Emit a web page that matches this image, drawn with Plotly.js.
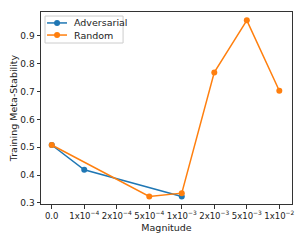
<!DOCTYPE html>
<html><head><meta charset="utf-8">
<script src="https://cdn.plot.ly/plotly-3.0.1.min.js"></script>
<style>html,body{margin:0;padding:0;background:#fff}#c{width:305px;height:244px}</style>
</head><body><div id="c"></div>
<script>
const categories = ["0.0","1x10<sup>−4</sup>","2x10<sup>−4</sup>","5x10<sup>−4</sup>","1x10<sup>−3</sup>","2x10<sup>−3</sup>","5x10<sup>−3</sup>","1x10<sup>−2</sup>"];
const advIdx = [0, 1, 4];
const advVals = [0.508, 0.419, 0.323];
const randIdx = [0, 3, 4, 5, 6, 7];
const randVals = [0.508, 0.323, 0.335, 0.769, 0.956, 0.703];
const yTicks = [0.3, 0.4, 0.5, 0.6, 0.7, 0.8, 0.9];
const seriesNames = ["Adversarial", "Random"];
const seriesColors = ["#1f77b4", "#ff7f0e"];

const data = [
  {x: advIdx, y: advVals, name: seriesNames[0], type: "scatter", mode: "lines+markers",
   line: {color: seriesColors[0], width: 1.5}, marker: {color: seriesColors[0], size: 6}},
  {x: randIdx, y: randVals, name: seriesNames[1], type: "scatter", mode: "lines+markers",
   line: {color: seriesColors[1], width: 1.5}, marker: {color: seriesColors[1], size: 6}}
];

const shapes = [{type: "rect", xref: "paper", yref: "paper", x0: 0.016, x1: 0.327, y0: 0.8385, y1: 0.979,
  line: {color: "#cccccc", width: 1}, fillcolor: "rgba(255,255,255,0.8)", layer: "above"}];
const annotations = [];
const entryY = [0.943, 0.880];
seriesNames.forEach((n, i) => {
  shapes.push({type: "line", xref: "paper", yref: "paper", x0: 0.024, x1: 0.1036, y0: entryY[i], y1: entryY[i],
    line: {color: seriesColors[i], width: 1.5}, layer: "above"});
  shapes.push({type: "circle", xref: "paper", yref: "paper", xsizemode: "pixel", ysizemode: "pixel",
    xanchor: 0.064, yanchor: entryY[i], x0: -3, x1: 3, y0: -3, y1: 3,
    line: {color: seriesColors[i], width: 0}, fillcolor: seriesColors[i], layer: "above"});
  annotations.push({xref: "paper", yref: "paper", x: 0.1235, y: entryY[i], xanchor: "left", yanchor: "middle",
    text: n, showarrow: false, font: {family: "DejaVu Sans", size: 9.5, color: "#222"}});
});

const layout = {
  width: 305, height: 244,
  margin: {l: 41, r: 13, t: 12, b: 40},
  paper_bgcolor: "#fff", plot_bgcolor: "#fff",
  font: {family: "DejaVu Sans", size: 9, color: "#222"},
  showlegend: false,
  shapes: shapes, annotations: annotations,
  xaxis: {
    range: [-0.33, 7.39], tickmode: "array", tickvals: categories.map((_, i) => i), ticktext: categories,
    showgrid: false, zeroline: false, showline: true, linecolor: "#333", linewidth: 1, mirror: true,
    ticks: "outside", ticklen: 3.5, tickcolor: "#333", tickangle: 0,
    tickfont: {family: "DejaVu Sans", size: 8.5, color: "#222"},
    title: {text: "Magnitude", font: {family: "DejaVu Sans", size: 9.5, color: "#222"}, standoff: 4}
  },
  yaxis: {
    range: [0.296, 0.986], tickmode: "array", tickvals: yTicks, ticktext: yTicks.map(v => v.toFixed(1)),
    showgrid: false, zeroline: false, showline: true, linecolor: "#333", linewidth: 1, mirror: true,
    ticks: "outside", ticklen: 3.5, tickcolor: "#333",
    tickfont: {family: "DejaVu Sans", size: 9, color: "#222"},
    title: {text: "Training Meta-Stability", font: {family: "DejaVu Sans", size: 9.5, color: "#222"}, standoff: 1}
  }
};
Plotly.newPlot("c", data, layout, {displayModeBar: false, staticPlot: true});
</script></body></html>
